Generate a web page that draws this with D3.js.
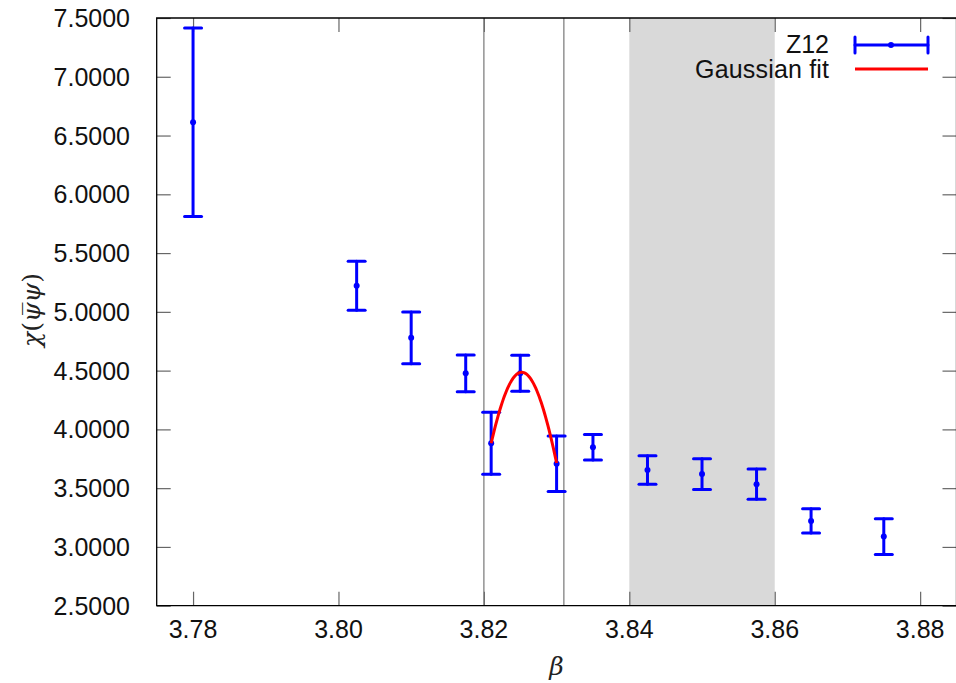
<!DOCTYPE html>
<html>
<head>
<meta charset="utf-8">
<script src="https://cdn.jsdelivr.net/npm/d3@7"></script>
<style>
  html, body { margin: 0; padding: 0; background: #fff; }
  svg { display: block; }
</style>
</head>
<body>
<svg id="chart" width="956" height="683"></svg>
<script>
// Susceptibility chi(psibar psi) versus beta, lattice Z12
const beta   = [3.78, 3.8025, 3.81, 3.8175, 3.821, 3.825, 3.83, 3.835, 3.8425, 3.85, 3.8575, 3.865, 3.875];
const chi    = [6.613, 5.222, 4.779, 4.477, 3.882, 4.478, 3.708, 3.848, 3.655, 3.620, 3.534, 3.221, 3.088];
const chiErr = [0.801, 0.209, 0.220, 0.156, 0.264, 0.153, 0.236, 0.108, 0.121, 0.131, 0.128, 0.103, 0.152];

// Gaussian fit: amplitude, centre, width, and the beta range it covers
const fitParams = [4.486, 3.8252, 0.00781];
const fitRange  = [3.821, 3.830];

// Vertical markers and shaded band
const markerLines = [3.820, 3.831];
const band = [3.84, 3.86];

const xTicks = [3.78, 3.80, 3.82, 3.84, 3.86, 3.88];
const yTicks = [2.5, 3.0, 3.5, 4.0, 4.5, 5.0, 5.5, 6.0, 6.5, 7.0, 7.5];

const svg = d3.select("#chart");
const L = 156.7, R = 956.5, T = 18, B = 605.7;

const x = d3.scaleLinear().domain([3.775, 3.885]).range([L, R]);
const y = d3.scaleLinear().domain([2.5, 7.5]).range([B, T]);

const tickColor = "#666";
const blue = "#0000ff";
const font = "'Liberation Sans', Arial, sans-serif";
const serif = "'DejaVu Serif', 'Liberation Serif', serif";

// shaded band
svg.append("rect")
  .attr("x", x(band[0])).attr("y", T)
  .attr("width", x(band[1]) - x(band[0])).attr("height", B - T)
  .attr("fill", "#d9d9d9");

// axes with inward ticks
const gL = svg.append("g").attr("transform", `translate(${L},0)`)
  .call(d3.axisRight(y).tickValues(yTicks).tickSize(14).tickFormat(""));
const gR = svg.append("g").attr("transform", `translate(${R},0)`)
  .call(d3.axisLeft(y).tickValues(yTicks).tickSize(14).tickFormat(""));
const gB = svg.append("g").attr("transform", `translate(0,${B})`)
  .call(d3.axisTop(x).tickValues(xTicks).tickSize(14).tickFormat(""));
const gT = svg.append("g").attr("transform", `translate(0,${T})`)
  .call(d3.axisBottom(x).tickValues(xTicks).tickSize(14).tickFormat(""));
[gL, gR, gB, gT].forEach(g => {
  g.select(".domain").remove();
  g.selectAll(".tick line").attr("stroke", tickColor).attr("stroke-width", 1.2);
});

// tick labels
svg.append("g").selectAll("text").data(yTicks).join("text")
  .attr("x", 130).attr("y", d => y(d))
  .attr("text-anchor", "end").attr("dy", "0.36em")
  .attr("font-family", font).attr("font-size", 25).attr("fill", "#111")
  .text(d => d.toFixed(4));
svg.append("g").selectAll("text").data(xTicks).join("text")
  .attr("x", d => x(d)).attr("y", 629)
  .attr("text-anchor", "middle").attr("dy", "0.36em")
  .attr("font-family", font).attr("font-size", 25).attr("fill", "#111")
  .text(d => d.toFixed(2));

// vertical marker lines
svg.append("g").selectAll("line").data(markerLines).join("line")
  .attr("x1", d => x(d)).attr("x2", d => x(d))
  .attr("y1", T).attr("y2", B)
  .attr("stroke", "#777").attr("stroke-width", 1.2);

// frame
svg.append("path")
  .attr("d", `M${L},${T}H${R}V${B}H${L}Z`)
  .attr("fill", "none").attr("stroke", "#000").attr("stroke-width", 1.3);

// error bars
const cap = 8.5;
const eb = svg.append("g").attr("stroke", blue).attr("stroke-width", 3).attr("stroke-linecap", "round");
beta.forEach((b, i) => {
  const cx = x(b), y0 = y(chi[i] - chiErr[i]), y1 = y(chi[i] + chiErr[i]);
  eb.append("line").attr("x1", cx).attr("x2", cx).attr("y1", y0).attr("y2", y1);
  eb.append("line").attr("x1", cx - cap).attr("x2", cx + cap).attr("y1", y0).attr("y2", y0);
  eb.append("line").attr("x1", cx - cap).attr("x2", cx + cap).attr("y1", y1).attr("y2", y1);
});
svg.append("g").selectAll("circle").data(beta).join("circle")
  .attr("cx", d => x(d)).attr("cy", (d, i) => y(chi[i])).attr("r", 3)
  .attr("fill", blue);

// Gaussian fit curve
const gauss = b => fitParams[0] * Math.exp(-Math.pow(b - fitParams[1], 2) / (2 * fitParams[2] * fitParams[2]));
const fitPts = d3.range(0, 61).map(k => fitRange[0] + (fitRange[1] - fitRange[0]) * k / 60);
svg.append("path")
  .datum(fitPts)
  .attr("d", d3.line().x(d => x(d)).y(d => y(gauss(d))))
  .attr("fill", "none").attr("stroke", "#ff0000").attr("stroke-width", 3);

// legend
const leg = svg.append("g");
leg.append("text").attr("x", 829).attr("y", 44).attr("dy", "0.36em")
  .attr("text-anchor", "end").attr("font-family", font).attr("font-size", 25).attr("fill", "#111")
  .text("Z12");
leg.append("text").attr("x", 829).attr("y", 69).attr("dy", "0.36em")
  .attr("text-anchor", "end").attr("font-family", font).attr("font-size", 25).attr("fill", "#111")
  .attr("textLength", 134).attr("lengthAdjust", "spacing")
  .text("Gaussian fit");
const lg = leg.append("g").attr("stroke", blue).attr("stroke-width", 3).attr("stroke-linecap", "round");
lg.append("line").attr("x1", 855).attr("x2", 928).attr("y1", 45).attr("y2", 45);
lg.append("line").attr("x1", 855).attr("x2", 855).attr("y1", 37).attr("y2", 53);
lg.append("line").attr("x1", 928).attr("x2", 928).attr("y1", 37).attr("y2", 53);
leg.append("circle").attr("cx", 891).attr("cy", 45).attr("r", 3).attr("fill", blue);
leg.append("line").attr("x1", 855).attr("x2", 928).attr("y1", 69).attr("y2", 69)
  .attr("stroke", "#ff0000").attr("stroke-width", 3);

// axis titles: italic symbols, upright parentheses
const yTitle = svg.append("text")
  .attr("transform", `translate(31,310) rotate(-90)`)
  .attr("text-anchor", "middle").attr("dy", "0.35em")
  .attr("font-family", serif).attr("font-size", 25).attr("fill", "#222");
[["χ", "italic"], ["(", "normal"], ["ψ\u0305", "italic"], ["ψ", "italic"], [")", "normal"]]
  .forEach(([t, s]) => yTitle.append("tspan").attr("font-style", s).text(t));
svg.append("text")
  .attr("x", (L + R) / 2).attr("y", 666).attr("dy", "0.35em")
  .attr("text-anchor", "middle")
  .attr("font-family", serif)
  .attr("font-style", "italic").attr("font-size", 25).attr("fill", "#222")
  .text("β");
</script>
</body>
</html>
